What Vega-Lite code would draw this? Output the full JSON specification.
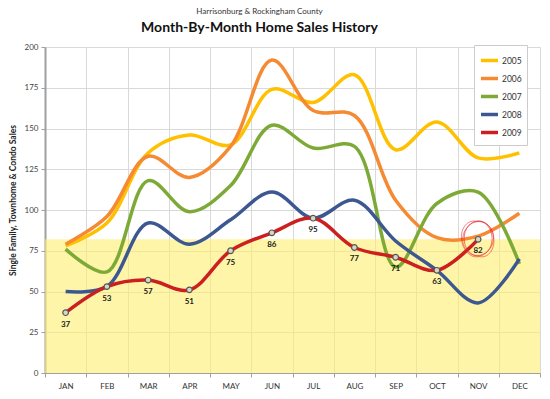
{
  "$schema": "https://vega.github.io/schema/vega-lite/v6.json",
  "width": 495,
  "height": 326,
  "autosize": {"type": "none"},
  "padding": {"left": 45, "top": 47, "right": 10, "bottom": 26},
  "background": "white",
  "title": {
    "text": "Harrisonburg & Rockingham County",
    "subtitle": "Month-By-Month Home Sales History",
    "anchor": "middle",
    "frame": "group",
    "dx": -33,
    "font": "Lato",
    "fontSize": 8,
    "fontWeight": "normal",
    "color": "#333333",
    "subtitleFont": "Lato",
    "subtitleFontSize": 14,
    "subtitleFontWeight": "bold",
    "subtitleColor": "#111111",
    "subtitlePadding": 5,
    "offset": 8
  },
  "datasets": {
    "sales": [
      {"year": "2005", "month": "JAN", "sales": 78}, {"year": "2005", "month": "FEB", "sales": 92}, {"year": "2005", "month": "MAR", "sales": 135}, {"year": "2005", "month": "APR", "sales": 146}, {"year": "2005", "month": "MAY", "sales": 140}, {"year": "2005", "month": "JUN", "sales": 174}, {"year": "2005", "month": "JUL", "sales": 166}, {"year": "2005", "month": "AUG", "sales": 183}, {"year": "2005", "month": "SEP", "sales": 137}, {"year": "2005", "month": "OCT", "sales": 154}, {"year": "2005", "month": "NOV", "sales": 132}, {"year": "2005", "month": "DEC", "sales": 135},
      {"year": "2006", "month": "JAN", "sales": 79}, {"year": "2006", "month": "FEB", "sales": 96}, {"year": "2006", "month": "MAR", "sales": 133}, {"year": "2006", "month": "APR", "sales": 120}, {"year": "2006", "month": "MAY", "sales": 139}, {"year": "2006", "month": "JUN", "sales": 192}, {"year": "2006", "month": "JUL", "sales": 161}, {"year": "2006", "month": "AUG", "sales": 158}, {"year": "2006", "month": "SEP", "sales": 106}, {"year": "2006", "month": "OCT", "sales": 83}, {"year": "2006", "month": "NOV", "sales": 84}, {"year": "2006", "month": "DEC", "sales": 98},
      {"year": "2007", "month": "JAN", "sales": 76}, {"year": "2007", "month": "FEB", "sales": 62}, {"year": "2007", "month": "MAR", "sales": 118}, {"year": "2007", "month": "APR", "sales": 99}, {"year": "2007", "month": "MAY", "sales": 115}, {"year": "2007", "month": "JUN", "sales": 152}, {"year": "2007", "month": "JUL", "sales": 138}, {"year": "2007", "month": "AUG", "sales": 139}, {"year": "2007", "month": "SEP", "sales": 65}, {"year": "2007", "month": "OCT", "sales": 104}, {"year": "2007", "month": "NOV", "sales": 111}, {"year": "2007", "month": "DEC", "sales": 67},
      {"year": "2008", "month": "JAN", "sales": 50}, {"year": "2008", "month": "FEB", "sales": 53}, {"year": "2008", "month": "MAR", "sales": 92}, {"year": "2008", "month": "APR", "sales": 79}, {"year": "2008", "month": "MAY", "sales": 94}, {"year": "2008", "month": "JUN", "sales": 111}, {"year": "2008", "month": "JUL", "sales": 95}, {"year": "2008", "month": "AUG", "sales": 106}, {"year": "2008", "month": "SEP", "sales": 81}, {"year": "2008", "month": "OCT", "sales": 63}, {"year": "2008", "month": "NOV", "sales": 43}, {"year": "2008", "month": "DEC", "sales": 70},
      {"year": "2009", "month": "JAN", "sales": 37}, {"year": "2009", "month": "FEB", "sales": 53}, {"year": "2009", "month": "MAR", "sales": 57}, {"year": "2009", "month": "APR", "sales": 51}, {"year": "2009", "month": "MAY", "sales": 75}, {"year": "2009", "month": "JUN", "sales": 86}, {"year": "2009", "month": "JUL", "sales": 95}, {"year": "2009", "month": "AUG", "sales": 77}, {"year": "2009", "month": "SEP", "sales": 71}, {"year": "2009", "month": "OCT", "sales": 63}, {"year": "2009", "month": "NOV", "sales": 82}
    ],
    "band": [{"low": 0, "high": 82}],
    "note": [{"month": "NOV", "sales": 82.5}]
  },
  "encoding": {
    "x": {
      "field": "month",
      "type": "ordinal",
      "sort": ["JAN", "FEB", "MAR", "APR", "MAY", "JUN", "JUL", "AUG", "SEP", "OCT", "NOV", "DEC"],
      "scale": {"type": "band", "paddingInner": 0, "paddingOuter": 0},
      "axis": {
        "title": null,
        "tickBand": "extent",
        "grid": true,
        "gridColor": "#D9D9D9",
        "labelAngle": 0,
        "labelFont": "Lato",
        "labelFontSize": 8,
        "labelColor": "#333333",
        "labelPadding": 5,
        "tickSize": 4,
        "tickColor": "#A0A0A0",
        "domainColor": "#A0A0A0"
      }
    }
  },
  "layer": [
    {
      "data": {"name": "band"},
      "mark": {"type": "rect", "color": "#FFEF6E", "opacity": 0.6},
      "encoding": {
        "x": null,
        "y": {"field": "low", "type": "quantitative"},
        "y2": {"field": "high"}
      }
    },
    {
      "data": {"name": "sales"},
      "mark": {"type": "line", "interpolate": "catmull-rom", "strokeWidth": 3.5},
      "encoding": {
        "y": {
          "field": "sales",
          "type": "quantitative",
          "scale": {"domain": [0, 200], "nice": false},
          "axis": {
            "values": [0, 25, 50, 75, 100, 125, 150, 175, 200],
            "title": "Single Family, Townhome & Condo Sales",
            "titleFont": "Lato",
            "titleFontSize": 8.5,
            "titleFontWeight": "bold",
            "titleColor": "#222222",
            "titlePadding": 7,
            "titleY": 153,
            "labelFont": "Lato",
            "labelFontSize": 8,
            "labelColor": "#444444",
            "labelPadding": 3,
            "grid": true,
            "gridColor": "#D9D9D9",
            "tickSize": 4,
            "tickColor": "#A0A0A0",
            "domainColor": "#A0A0A0",
            "domainWidth": 2
          }
        },
        "color": {
          "field": "year",
          "type": "nominal",
          "scale": {
            "domain": ["2005", "2006", "2007", "2008", "2009"],
            "range": ["#FFC000", "#F68A32", "#7DAA37", "#3D5890", "#CC1F1F"]
          },
          "legend": {
            "orient": "none",
            "legendX": 429,
            "legendY": -2,
            "title": null,
            "fillColor": "white",
            "strokeColor": "#CCCCCC",
            "padding": 5,
            "symbolType": "stroke",
            "symbolSize": 289,
            "symbolStrokeWidth": 3.5,
            "labelFont": "Lato",
            "labelFontSize": 8.5,
            "labelColor": "#333333",
            "labelOffset": 2,
            "rowPadding": -4
          }
        }
      }
    },
    {
      "data": {"name": "sales"},
      "transform": [{"filter": "datum.year === '2009'"}],
      "mark": {"type": "point", "filled": true, "fill": "#D8D6C4", "stroke": "#555555", "strokeWidth": 1.2, "size": 32, "opacity": 1},
      "encoding": {"y": {"field": "sales", "type": "quantitative"}}
    },
    {
      "data": {"name": "sales"},
      "transform": [{"filter": "datum.year === '2009'"}],
      "mark": {"type": "text", "dy": 12, "font": "Lato", "fontSize": 8, "fontWeight": "bold", "color": "#222222"},
      "encoding": {"y": {"field": "sales", "type": "quantitative"}, "text": {"field": "sales", "type": "quantitative"}}
    },
    {
      "data": {"name": "note"},
      "mark": {"type": "point", "filled": false, "stroke": "#E8262A", "strokeWidth": 0.9, "size": 1225, "shape": "M0,-1 A0.8,1 0 1,1 0,1 A0.8,1 0 1,1 0,-1 Z"},
      "encoding": {"y": {"field": "sales", "type": "quantitative"}}
    },
    {
      "data": {"name": "note"},
      "mark": {"type": "point", "filled": false, "stroke": "#E8262A", "strokeWidth": 0.8, "size": 1150, "shape": "M0.1,-1 A0.85,0.95 15 1,1 -0.1,1 A0.85,0.95 15 1,1 0.1,-1 Z"},
      "encoding": {"y": {"field": "sales", "type": "quantitative"}}
    },
    {
      "data": {"name": "note"},
      "mark": {"type": "point", "filled": false, "stroke": "#E8262A", "strokeWidth": 0.8, "size": 1300, "shape": "M-0.1,-0.95 A0.75,1 -10 1,1 0.05,1 A0.75,1 -10 1,1 -0.1,-0.95 Z"},
      "encoding": {"y": {"field": "sales", "type": "quantitative"}}
    }
  ],
  "config": {
    "view": {"stroke": null},
    "font": "Lato"
  }
}
